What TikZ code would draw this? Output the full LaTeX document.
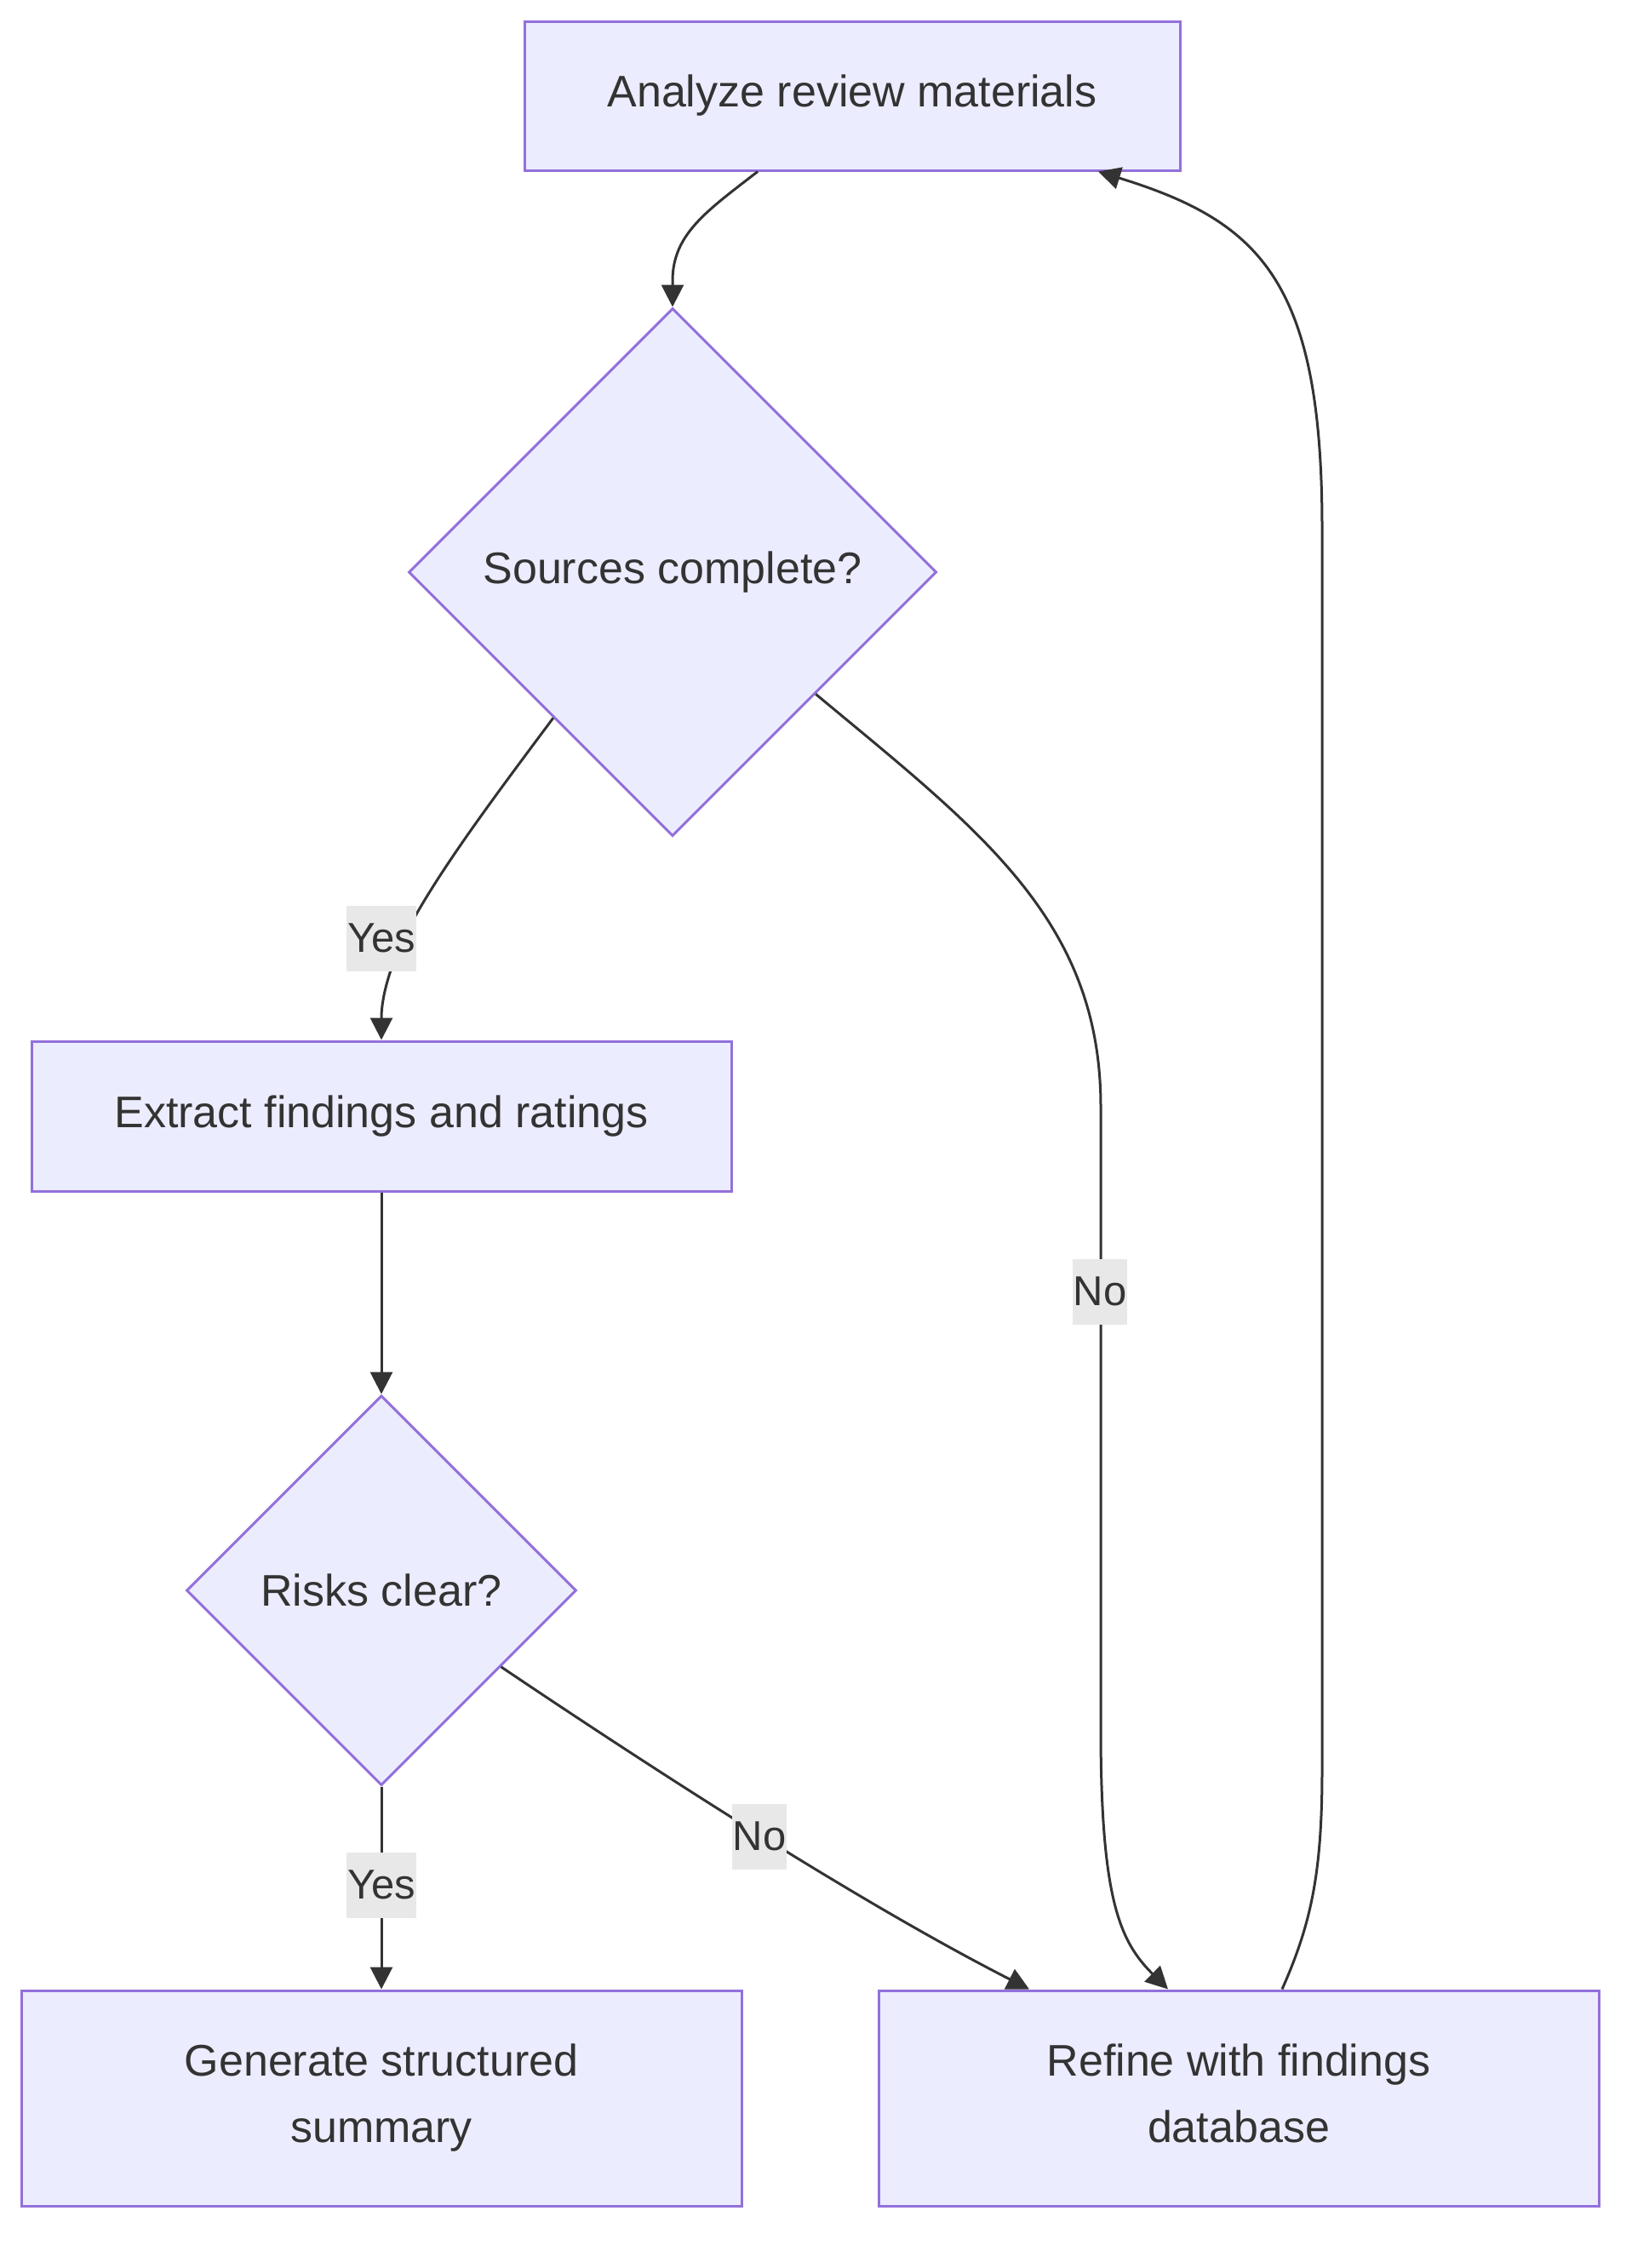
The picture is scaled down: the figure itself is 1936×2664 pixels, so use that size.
\documentclass[tikz,border=0pt]{standalone}
\usepackage{fontspec}
\setmainfont{Liberation Sans}
\usetikzlibrary{arrows.meta,calc,shapes.geometric}
\definecolor{nodefill}{HTML}{ECECFF}
\definecolor{nodeline}{HTML}{9370DB}
\definecolor{edgecol}{HTML}{333333}
\definecolor{txtcol}{HTML}{333333}
\definecolor{lblbg}{HTML}{E8E8E8}
\newcommand{\myNodeFont}{\fontsize{52}{78}\selectfont}
\newcommand{\myLblFont}{\fontsize{49}{57}\selectfont}
\begin{document}
\begin{tikzpicture}[x=1pt,y=-1pt,
  box/.style={draw=nodeline, fill=nodefill, line width=3pt, text=txtcol, font=\myNodeFont, align=center, inner sep=0pt},
  dia/.style={diamond, aspect=1, draw=nodeline, fill=nodefill, line width=3pt, text=txtcol, font=\myNodeFont, inner sep=0pt},
  edge/.style={draw=edgecol, line width=3pt, -{Triangle[length=26pt,width=26pt]}},
  lbl/.style={fill=lblbg, text=txtcol, font=\myLblFont, inner xsep=1pt, inner ysep=0pt, minimum height=77pt}]
\useasboundingbox (0,0) rectangle (1936,2664);
\fill[white] (0,0) rectangle (1936,2664);

\node[box, minimum width=770pt, minimum height=175pt] (A) at (1001,112.5) {Analyze review materials};
\node[dia, minimum width=620pt, minimum height=620pt] (S) at (790,672) {Sources complete?};
\node[box, minimum width=822pt, minimum height=176pt] (E) at (448,1311) {Extract findings and ratings};
\node[dia, minimum width=458pt, minimum height=458pt] (K) at (448,1868) {Risks clear?};
\node[box, minimum width=846pt, minimum height=253pt] (G) at (448,2464.5) {Generate structured\\summary};
\node[box, minimum width=846pt, minimum height=253pt] (R) at (1455,2464.5) {Refine with findings\\database\vphantom{y}};

\draw[edge] ([xshift=-111pt]A.south) .. controls (830,248) and (790,275) .. (790,330) -- (S.north);

\draw[edge] ($(S.west)!0.55!(S.south)$) .. controls (580,937) and (510,1030) .. (475,1100) .. controls (452,1150) and (448,1180) .. (E.north);
\node[lbl] (L1) at (448,1102) {Yes};

\draw[edge] ($(S.east)!0.46!(S.south)$) .. controls (1150,975) and (1293,1080) .. (1293,1300) -- (1293,2030) .. controls (1293,2230) and (1315,2280) .. ([xshift=-83pt]R.north);
\node[lbl] (L2) at (1292,1517) {No};

\draw[edge] (E.south) -- (K.north);
\draw[edge] (K.south) -- (G.north);
\node[lbl] (L3) at (448,2214) {Yes};

\draw[edge] ($(K.east)!0.39!(K.south)$) .. controls (770,2080) and (1010,2235) .. ([xshift=-246pt]R.north);
\node[lbl] (L4) at (892,2157) {No};

\draw[edge] ([xshift=51pt]R.north) .. controls (1540,2260) and (1553,2200) .. (1553,2080) -- (1553,620) .. controls (1553,330) and (1480,260) .. ([xshift=289pt]A.south);
\end{tikzpicture}
\end{document}
